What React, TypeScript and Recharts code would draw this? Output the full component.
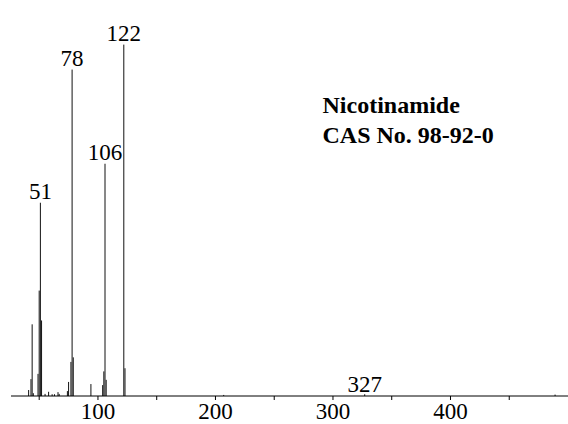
import React from 'react';
import { ComposedChart, XAxis, YAxis, ReferenceLine } from 'recharts';

// m/z values of the peaks
const peakMz: number[] = [
  41, 43, 44, 45, 49, 50, 51, 52, 55, 58, 61, 63, 66, 67,
  74, 75, 77, 78, 79, 94, 104, 105, 106, 107, 122, 123, 207, 327, 489,
];
// relative intensity (%)
const peakIntensity: number[] = [
  1.7, 4.8, 20.4, 0.8, 6.3, 30, 55, 21.5, 0.6, 1.2, 0.5, 0.5, 1.1, 0.6,
  1.4, 4.0, 9.7, 92.9, 11, 3.4, 3.1, 7.0, 66.1, 4.6, 100, 7.9, 0.3, 0.5, 0.4,
];
// peaks carrying a label
const labeledMz: number[] = [51, 78, 106, 122, 327];

const xTicks: number[] = [50, 100, 150, 200, 250, 300, 350, 400, 450];
const xLabeled: number[] = [100, 200, 300, 400];

const titleLines: string[] = ['Nicotinamide', 'CAS No. 98-92-0'];

const FONT = '"Liberation Serif", "Times New Roman", serif';

export default function App() {
  const data = peakMz.map((m, i) => ({ mz: m, y: peakIntensity[i] }));
  return (
    <div style={{ position: 'absolute', left: 0, top: 0, width: 568, height: 424, background: '#fff' }}>
      <ComposedChart
        width={568}
        height={424}
        data={data}
        margin={{ top: 13, right: 0, bottom: 0, left: 11 }}
      >
        <XAxis
          dataKey="mz"
          type="number"
          domain={[26, 500]}
          allowDataOverflow
          ticks={xTicks}
          interval={0}
          tickFormatter={(v: number) => (xLabeled.includes(v) ? String(v) : '')}
          height={28}
          tickSize={4}
          tickMargin={3}
          stroke="#000"
          axisLine={{ stroke: '#000', strokeWidth: 1 }}
          tickLine={{ stroke: '#000' }}
          tick={{ fill: '#000', fontSize: 23, fontFamily: FONT }}
        />
        <YAxis
          type="number"
          domain={[0, 109]}
          allowDataOverflow
          width={0}
          tick={false}
          tickLine={false}
          axisLine={{ stroke: '#000', strokeWidth: 1 }}
        />
        {data.map((d) => (
          <ReferenceLine
            key={d.mz}
            segment={[
              { x: d.mz, y: 0 },
              { x: d.mz, y: d.y },
            ]}
            stroke="#111"
            strokeWidth={1}
            ifOverflow="visible"
            label={
              labeledMz.includes(d.mz)
                ? {
                    value: String(d.mz),
                    position: 'top',
                    offset: d.mz === 327 ? 2 : 4,
                    fill: '#000',
                    fontSize: 23,
                    fontFamily: FONT,
                  }
                : undefined
            }
          />
        ))}
      </ComposedChart>
      <svg
        width={568}
        height={424}
        style={{ position: 'absolute', left: 0, top: 0, pointerEvents: 'none' }}
      >
        {titleLines.map((t, i) => (
          <text
            key={t}
            x={322.5}
            y={113 + i * 30}
            fontFamily={FONT}
            fontWeight="bold"
            fontSize={24}
            fill="#000"
          >
            {t}
          </text>
        ))}
      </svg>
    </div>
  );
}
